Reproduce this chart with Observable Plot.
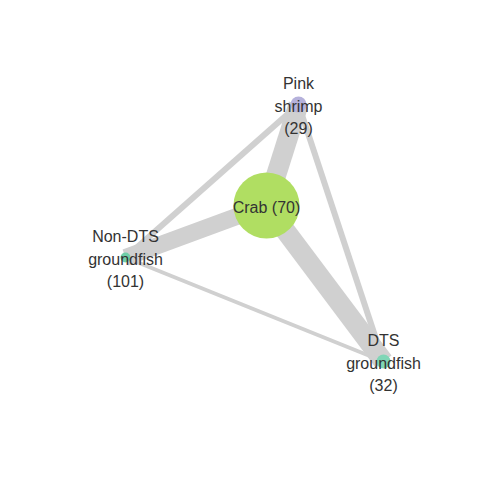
<!DOCTYPE html>
<html>
<head>
<meta charset="utf-8">
<script src="https://cdn.jsdelivr.net/npm/d3@7"></script>
<script src="https://cdn.jsdelivr.net/npm/@observablehq/plot@0.6"></script>
<style>body{margin:0;background:#fff;}</style>
</head>
<body>
<div id="chart"></div>
<script>
// node layout and values
const names = ['Crab', 'Pink shrimp', 'Non-DTS groundfish', 'DTS groundfish'];
const labels = ['Crab (70)', 'Pink\nshrimp\n(29)', 'Non-DTS\ngroundfish\n(101)', 'DTS\ngroundfish\n(32)'];
const nodeX = [266, 298, 125, 383];
const nodeY = [205, 104, 257, 361];
const nodeR = [33, 8, 5, 7];
const nodeColor = ['#b0de62', '#b5b1db', '#6fcfa8', '#7fd6b6'];

const edgeFrom = [0, 0, 0, 1, 1, 2];
const edgeTo   = [1, 2, 3, 2, 3, 3];
const edgeW    = [20, 17, 20, 6, 6, 4];

const nodes = names.map((n, i) => ({ name: n, label: labels[i], x: nodeX[i], y: nodeY[i], r: nodeR[i], c: nodeColor[i] }));
const edges = edgeFrom.map((f, i) => ({ a: nodes[f], b: nodes[edgeTo[i]], w: edgeW[i] }));

const chart = Plot.plot({
  width: 480, height: 480,
  margin: 0,
  x: { domain: [0, 480], range: [0, 480], axis: null },
  y: { domain: [0, 480], range: [0, 480], axis: null },
  r: { type: 'identity' },
  style: { background: '#fff', fontFamily: "'Liberation Sans', Arial, sans-serif" },
  marks: [
    Plot.link(edges, {
      x1: d => d.a.x, y1: d => d.a.y, x2: d => d.b.x, y2: d => d.b.y,
      stroke: '#d0d0d0', strokeWidth: 'w', strokeOpacity: 1
    }),
    Plot.dot(nodes, { x: 'x', y: 'y', r: 'r', fill: 'c', stroke: null }),
    Plot.text(nodes, {
      x: 'x', y: 'y', text: 'label', fontSize: 16, lineHeight: 1.4, fill: '#333'
    })
  ]
});
document.getElementById('chart').appendChild(chart);
</script>
</body>
</html>
